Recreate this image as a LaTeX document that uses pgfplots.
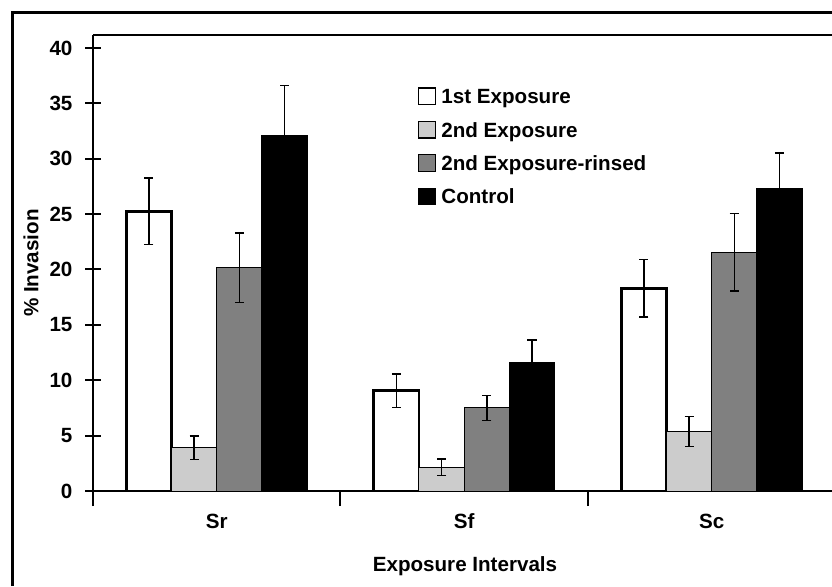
\documentclass[border=0pt]{standalone}
\usepackage{fontspec}
\setmainfont{Liberation Sans}
\usepackage{pgfplots}
\pgfplotsset{compat=1.18}
\definecolor{lgray}{HTML}{CCCCCC}
\definecolor{mgray}{HTML}{808080}
\newcommand{\cf}{\fontsize{10.3}{12}\selectfont\bfseries}
\begin{document}
\begin{tikzpicture}[x=0.5pt,y=0.5pt,font=\cf]
\useasboundingbox (0,0) rectangle (832,586);
\draw[line width=1.5pt] (12,0) -- (12,574) -- (832,574);
\begin{axis}[
  at={(46.5pt,47.5pt)}, anchor=south west,
  scale only axis, width=369.5pt, height=228pt,
  xmin=-0.5, xmax=2.486, ymin=0, ymax=41.17,
  axis lines*=left,
  axis line style={line width=1.2pt},
  ytick={0,5,...,40},
  xtick={-0.5,0.5,1.5}, xticklabels={,,},
  extra x ticks={0,1,2}, extra x tick labels={Sr,Sf,Sc},
  extra x tick style={major tick length=0pt, xticklabel style={anchor=base, yshift=-18.5pt}},
  tick align=center, major tick length=7.5pt,
  tick style={line width=1pt, black},
  tick label style={font=\cf},
  yticklabel style={xshift=-3pt},
  /pgf/number format/assume math mode=true,
  ybar, bar width=0.1828,
  legend image code/.code={\draw[#1, line width=0.6pt] (0pt,-3.1pt) rectangle (8.3pt,5.2pt);},
  legend cell align=left,
  legend style={at={(axis description cs:0.4398,0.8851)}, anchor=north west,
    draw=none, fill=none, inner sep=0pt, outer sep=0pt, row sep=6.35pt, font=\cf,
    nodes={inner sep=0pt, text height=7.5pt, text depth=2.2pt},
    /tikz/every odd column/.append style={column sep=2.8pt}},
  clip=false,
]
\addplot[fill=white, draw=black, line width=1.35pt, bar shift=-0.2742,
  error bars/.cd, y dir=both, y explicit,
  error bar style={line width=0.7pt, black},
  error mark options={rotate=90, mark size=2.3pt, line width=0.7pt, black}]
  coordinates {(0,25.25) +- (0,3.0) (1,9.05) +- (0,1.5) (2,18.3) +- (0,2.6)};
\addlegendentry{1st Exposure}
\addplot[fill=lgray, draw=black, line width=0.5pt, bar shift=-0.0914,
  error bars/.cd, y dir=both, y explicit,
  error bar style={line width=0.7pt, black},
  error mark options={rotate=90, mark size=2.3pt, line width=0.7pt, black}]
  coordinates {(0,3.9) +- (0,1.05) (1,2.15) +- (0,0.75) (2,5.35) +- (0,1.35)};
\addlegendentry{2nd Exposure}
\addplot[fill=mgray, draw=black, line width=0.5pt, bar shift=0.0914,
  error bars/.cd, y dir=both, y explicit,
  error bar style={line width=0.7pt, black},
  error mark options={rotate=90, mark size=2.3pt, line width=0.7pt, black}]
  coordinates {(0,20.15) +- (0,3.15) (1,7.5) +- (0,1.13) (2,21.56) +- (0,3.5)};
\addlegendentry{2nd Exposure-rinsed}
\addplot[fill=black, draw=black, line width=0.5pt, bar shift=0.2742,
  error bars/.cd, y dir=both, y explicit,
  error bar style={line width=0.7pt, black},
  error mark options={rotate=90, mark size=2.3pt, line width=0.7pt, black}]
  coordinates {(0,32.1) +- (0,4.5) (1,11.6) +- (0,2.05) (2,27.3) +- (0,3.2)};
\addlegendentry{Control}
\draw[line width=1.2pt] (rel axis cs:0,1) -- (rel axis cs:1,1);
\end{axis}
\node[rotate=90, anchor=center] at (31,323) {\% Invasion};
\node[anchor=base] at (465,14.5) {Exposure Intervals};
\end{tikzpicture}
\end{document}
